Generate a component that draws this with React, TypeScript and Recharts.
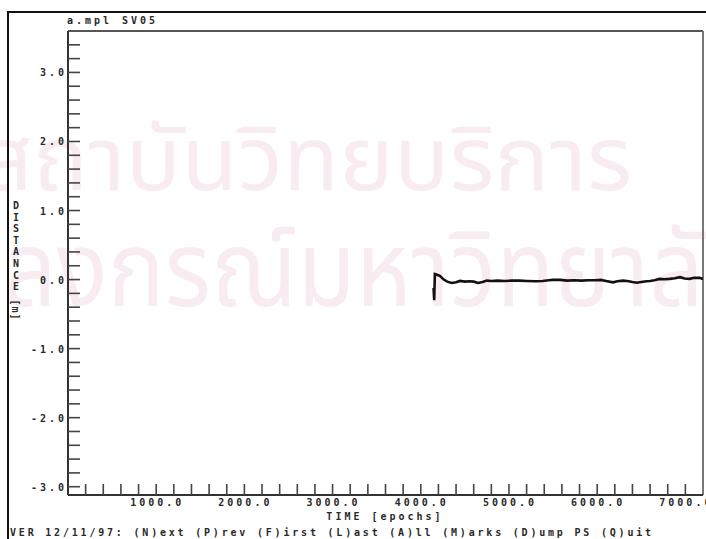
import React from "react";
import {
  LineChart,
  Line,
  XAxis,
  YAxis,
  ReferenceLine,
} from "recharts";

// track of SV05 relative distance vs time
const epochs = [
  4145, 4152, 4160, 4185, 4220, 4260, 4300, 4350, 4400, 4445, 4500, 4550,
  4600, 4650, 4700, 4750, 4800, 4870, 4950, 5030, 5120, 5200, 5300, 5380,
  5450, 5500, 5580, 5660, 5740, 5820, 5900, 5980, 6040, 6100, 6180, 6230,
  6290, 6340, 6400, 6450, 6500, 6560, 6600, 6650, 6710, 6760, 6820, 6880,
  6940, 6990, 7050, 7100, 7160, 7200,
];
const distance = [
  -0.12, -0.3, 0.08, 0.07, 0.05, 0.0, -0.03, -0.05, -0.04, -0.02, -0.03,
  -0.025, -0.03, -0.05, -0.035, -0.015, -0.02, -0.015, -0.02, -0.015, -0.015,
  -0.02, -0.025, -0.02, -0.01, -0.005, -0.005, -0.015, -0.01, -0.015, -0.01,
  -0.01, -0.005, -0.02, -0.04, -0.025, -0.015, -0.02, -0.035, -0.045, -0.035,
  -0.025, -0.02, -0.01, 0.01, 0.005, 0.01, 0.02, 0.035, 0.015, 0.01, 0.025,
  0.025, 0.01,
];

const xDomain = [0, 7200];
const yDomain = [-3.12, 3.6];
const xMajor = [1000, 2000, 3000, 4000, 5000, 6000, 7000];
const yMajor = [-3, -2, -1, 0, 1, 2, 3];

// minor ticks every 200 epochs / 0.2 m
const xTicks: number[] = [];
for (let i = 1; i <= 35; i++) xTicks.push(i * 200);
const yTicks: number[] = [];
for (let i = -15; i <= 17; i++) yTicks.push(Math.round(i * 20) / 100);

const data = epochs.map((t, i) => ({ t, d: distance[i] }));

const MONO = "'DejaVu Sans Mono', 'Liberation Mono', monospace";
const THAI = "'Noto Sans Thai', 'Loma', 'Garuda', 'Noto Sans', sans-serif";
const INK = "#2a2a2a";
const WATERMARK = "#f8ecf2";
const textStyle = {
  fontFamily: MONO,
  fontSize: 10,
  fontWeight: 700,
  letterSpacing: 3,
  fill: INK,
};

const W = 706;
const H = 539;

function XTick(props: any) {
  const { x, y, payload } = props;
  const v = payload.value;
  const major = xMajor.includes(v);
  return (
    <g>
      <line x1={x} x2={x} y1={y} y2={y - 11} stroke="#444" strokeWidth={1.6} />
      {major && (
        <text x={x + 1} y={y + 11} textAnchor="middle" style={textStyle}>
          {v.toFixed(1)}
        </text>
      )}
    </g>
  );
}

function YTick(props: any) {
  const { x, y, payload } = props;
  const v = payload.value;
  const major = yMajor.some((m) => Math.abs(m - v) < 1e-6);
  return (
    <g>
      <line x1={x} x2={x + 12} y1={y} y2={y} stroke="#444" strokeWidth={1.6} />
      {major && (
        <text x={x - 1} y={y + 4} textAnchor="end" style={textStyle}>
          {v.toFixed(1)}
        </text>
      )}
    </g>
  );
}

export default function App() {
  return (
    <div
      style={{
        position: "absolute",
        left: 0,
        top: 0,
        width: W,
        height: H,
        background: "#fff",
        overflow: "hidden",
      }}
    >
      {/* faint library watermark behind the plot */}
      <svg
        width={W}
        height={H}
        style={{ position: "absolute", left: 0, top: 0 }}
      >
        <text
          x={-20}
          y={190}
          textLength={652}
          lengthAdjust="spacingAndGlyphs"
          style={{ fontFamily: THAI, fontSize: 89, fill: WATERMARK }}
        >
          สถาบันวิทยบริการ
        </text>
        <text
          x={-150}
          y={306}
          textLength={910}
          lengthAdjust="spacingAndGlyphs"
          style={{ fontFamily: THAI, fontSize: 106, fill: WATERMARK }}
        >
          จุฬาลงกรณ์มหาวิทยาลัย
        </text>
      </svg>

      <div style={{ position: "absolute", left: 0, top: 0 }}>
        <LineChart
          width={W}
          height={H}
          data={data}
          margin={{ top: 31, right: 3, left: 67, bottom: 0 }}
        >
          <XAxis
            dataKey="t"
            type="number"
            domain={xDomain}
            ticks={xTicks}
            interval={0}
            height={44}
            tickSize={0}
            tickMargin={0}
            tickLine={false}
            axisLine={{ stroke: "#333", strokeWidth: 2 }}
            tick={<XTick />}
            allowDataOverflow
          />
          <YAxis
            type="number"
            domain={yDomain}
            ticks={yTicks}
            interval={0}
            width={1}
            tickSize={0}
            tickMargin={0}
            tickLine={false}
            axisLine={{ stroke: "#333", strokeWidth: 2 }}
            tick={<YTick />}
            allowDataOverflow
          />
          <ReferenceLine y={yDomain[1]} stroke="#555" strokeWidth={2} />
          <ReferenceLine x={xDomain[1]} stroke="#777" strokeWidth={2} />
          <Line
            type="linear"
            dataKey="d"
            stroke="#111"
            strokeWidth={2.6}
            dot={false}
            isAnimationActive={false}
          />
        </LineChart>
      </div>

      {/* screen frame, title, axis captions and key help line */}
      <svg
        width={W}
        height={H}
        style={{ position: "absolute", left: 0, top: 0, pointerEvents: "none" }}
      >
        <line x1={7} x2={W} y1={12} y2={12} stroke="#111" strokeWidth={2} />
        <line x1={8} x2={8} y1={12} y2={H} stroke="#111" strokeWidth={2} />
        <text x={67} y={24} style={textStyle}>
          a.mpl
        </text>
        <text x={122} y={24} style={textStyle}>
          SV05
        </text>
        <text
          x={16}
          y={200}
          style={{
            ...textStyle,
            letterSpacing: 0.6,
            writingMode: "vertical-rl",
            textOrientation: "upright",
          }}
        >
          DISTANCE
        </text>
        <text
          transform="translate(12 310) rotate(90)"
          textAnchor="middle"
          style={{ ...textStyle, letterSpacing: 1 }}
        >
          [m]
        </text>
        <text x={385} y={520} textAnchor="middle" style={textStyle}>
          TIME [epochs]
        </text>
        <text x={10} y={536} style={{ ...textStyle, letterSpacing: 2.8 }}>
          VER 12/11/97: (N)ext (P)rev (F)irst (L)ast (A)ll (M)arks (D)ump PS (Q)uit
        </text>
      </svg>
    </div>
  );
}
